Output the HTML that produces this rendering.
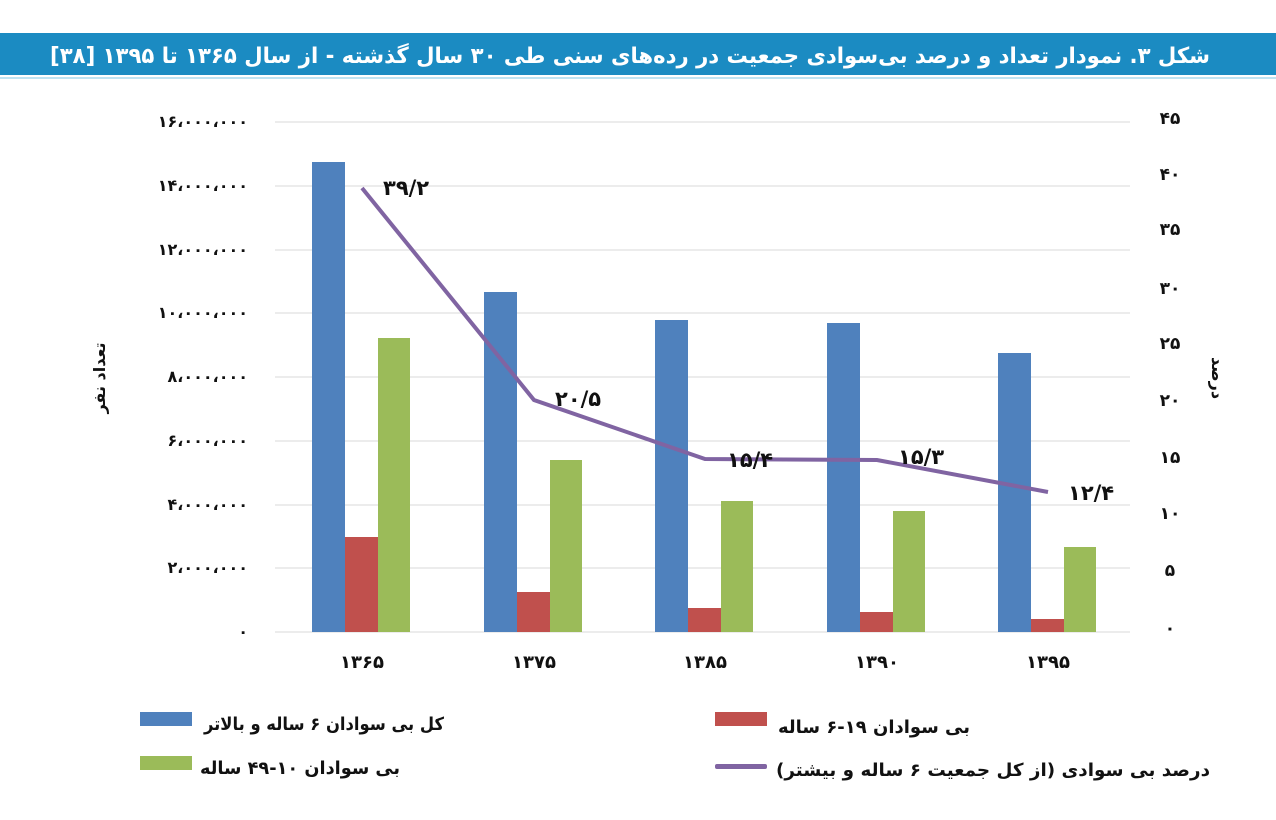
<!DOCTYPE html>
<html><head><meta charset="utf-8"><style>
html,body{margin:0;padding:0;background:#fff;width:1276px;height:820px;overflow:hidden}
svg text{font-family:"DejaVu Sans","Liberation Sans",sans-serif;font-weight:bold;fill:#111}
</style></head><body>
<svg width="1276" height="820" xmlns="http://www.w3.org/2000/svg">
<rect x="0" y="33" width="1276" height="42" fill="#1b8bc2"/>
<rect x="0" y="77" width="1276" height="2" fill="#bfe3f2"/>
<text x="1210" y="63" font-size="22" text-anchor="end" textLength="1160" lengthAdjust="spacingAndGlyphs" style="fill:#fff">شکل ۳. نمودار تعداد و درصد بی‌سوادی جمعیت در رده‌های سنی طی ۳۰ سال گذشته - از سال ۱۳۶۵ تا ۱۳۹۵ [۳۸]</text>
<g stroke="#d9d9d9" stroke-width="1">
<line x1="275" x2="1130" y1="122" y2="122"/><line x1="275" x2="1130" y1="186" y2="186"/>
<line x1="275" x2="1130" y1="250" y2="250"/><line x1="275" x2="1130" y1="313" y2="313"/>
<line x1="275" x2="1130" y1="377" y2="377"/><line x1="275" x2="1130" y1="441" y2="441"/>
<line x1="275" x2="1130" y1="505" y2="505"/><line x1="275" x2="1130" y1="568" y2="568"/>
<line x1="275" x2="1130" y1="632" y2="632"/>
</g>
<g font-size="16" text-anchor="end">
<text x="248" y="127">۱۶،۰۰۰،۰۰۰</text><text x="248" y="191">۱۴،۰۰۰،۰۰۰</text>
<text x="248" y="255">۱۲،۰۰۰،۰۰۰</text><text x="248" y="318">۱۰،۰۰۰،۰۰۰</text>
<text x="248" y="382">۸،۰۰۰،۰۰۰</text><text x="248" y="446">۶،۰۰۰،۰۰۰</text>
<text x="248" y="510">۴،۰۰۰،۰۰۰</text><text x="248" y="573">۲،۰۰۰،۰۰۰</text>
<text x="248" y="637">۰</text>
</g>
<g font-size="17" text-anchor="middle">
<text x="1170" y="124">۴۵</text><text x="1170" y="180">۴۰</text><text x="1170" y="235">۳۵</text>
<text x="1170" y="294">۳۰</text><text x="1170" y="349">۲۵</text><text x="1170" y="406">۲۰</text>
<text x="1170" y="463">۱۵</text><text x="1170" y="519">۱۰</text><text x="1170" y="576">۵</text>
<text x="1170" y="634">۰</text>
</g>
<text transform="translate(105,378) rotate(-90)" font-size="16" text-anchor="middle">تعداد نفر</text>
<text transform="translate(1212,378) rotate(90)" font-size="16" text-anchor="middle">درصد</text>
<g fill="#4f81bd">
<rect x="312" y="162" width="33" height="470"/><rect x="484" y="292" width="33" height="340"/>
<rect x="655" y="320" width="33" height="312"/><rect x="827" y="323" width="33" height="309"/>
<rect x="998" y="353" width="33" height="279"/>
</g>
<g fill="#c0504d">
<rect x="345" y="537" width="33" height="95"/><rect x="517" y="592" width="33" height="40"/>
<rect x="688" y="608" width="33" height="24"/><rect x="860" y="612" width="33" height="20"/>
<rect x="1031" y="619" width="33" height="13"/>
</g>
<g fill="#9bbb59">
<rect x="378" y="338" width="32" height="294"/><rect x="550" y="460" width="32" height="172"/>
<rect x="721" y="501" width="32" height="131"/><rect x="893" y="511" width="32" height="121"/>
<rect x="1064" y="547" width="32" height="85"/>
</g>
<polyline points="362,188 534,400 705,459 877,460 1048,492" fill="none" stroke="#8064a2" stroke-width="4"/>
<g font-size="21">
<text x="383" y="195">۳۹/۲</text><text x="555" y="406">۲۰/۵</text><text x="727" y="467">۱۵/۴</text>
<text x="898" y="464">۱۵/۳</text><text x="1068" y="500">۱۲/۴</text>
</g>
<g font-size="18" text-anchor="middle">
<text x="362" y="668">۱۳۶۵</text><text x="534" y="668">۱۳۷۵</text><text x="705" y="668">۱۳۸۵</text>
<text x="877" y="668">۱۳۹۰</text><text x="1048" y="668">۱۳۹۵</text>
</g>
<rect x="140" y="712" width="52" height="14" fill="#4f81bd"/>
<rect x="140" y="756" width="52" height="14" fill="#9bbb59"/>
<rect x="715" y="712" width="52" height="14" fill="#c0504d"/>
<rect x="715" y="764" width="52" height="5" rx="2" fill="#8064a2"/>
<g font-size="18" text-anchor="end" lengthAdjust="spacingAndGlyphs">
<text x="444" y="730" textLength="240" lengthAdjust="spacingAndGlyphs">کل بی سوادان ۶ ساله و بالاتر</text>
<text x="400" y="774" textLength="200" lengthAdjust="spacingAndGlyphs">بی سوادان ۱۰-۴۹ ساله</text>
<text x="970" y="733" textLength="192" lengthAdjust="spacingAndGlyphs">بی سوادان ۱۹-۶ ساله</text>
<text x="1210" y="776" textLength="434" lengthAdjust="spacingAndGlyphs">درصد بی سوادی (از کل جمعیت ۶ ساله و بیشتر)</text>
</g>
</svg>
</body></html>
